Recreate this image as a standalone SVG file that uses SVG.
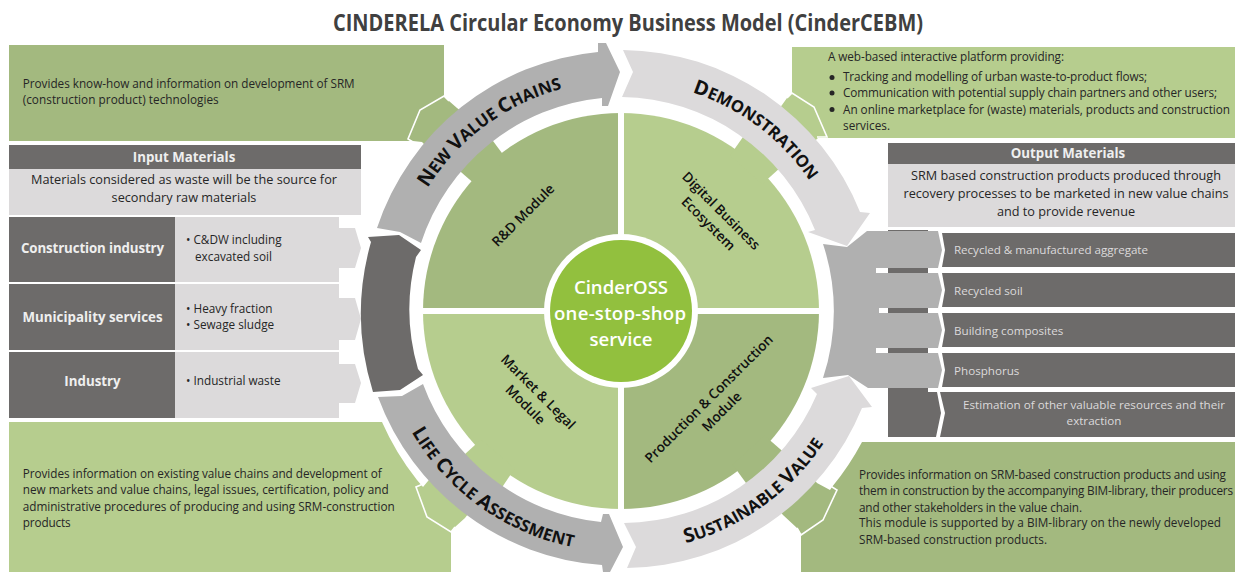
<svg xmlns="http://www.w3.org/2000/svg" width="1235" height="572" viewBox="0 0 1235 572">
<style>
text{font-family:"Open Sans","Noto Sans","Liberation Sans",sans-serif;fill:#262626}
.b{font-size:11.75px}
.m{font-size:12.7px}
.l{font-size:11.65px;fill:#dcdadb}
.h{font-size:13.3px;font-weight:700;fill:#efefef;text-anchor:middle}
.c{text-anchor:middle}
.q{font-size:13.6px;font-weight:600;fill:#111;text-anchor:middle}
.r{font-size:16.6px;font-weight:700;fill:#111;text-anchor:middle}
.r .u{font-size:20px}
.n{font-size:18.6px;font-weight:600;fill:#fff;text-anchor:middle}
.g1{fill:#a3b97f}.g2{fill:#b6cd8e}
.dk{fill:#6d6b6a}.lt{fill:#dcdadb}.gr{fill:#b0b0b0}
.w{fill:none;stroke:#fff;stroke-width:1.6}
</style>
<defs>
<path id="pa" d="M396.4 269.3A228 228 0 0 1 648.8 82.7"/>
<path id="pb" d="M597.2 82.3A228 228 0 0 1 845.6 269.3"/>
<path id="pc" d="M379 330.2A243 243 0 0 0 679.8 544.8"/>
<path id="pd" d="M562.2 544.8A243 243 0 0 0 863.5 326"/>
</defs>
<rect width="1235" height="572" fill="#fff"/>
<text id="title" x="628" y="31" class="c" textLength="590" lengthAdjust="spacingAndGlyphs" style="font-size:23px;font-weight:700;fill:#404040">CINDERELA Circular Economy Business Model (CinderCEBM)</text>

<g id="box-rd">
<path class="g1" d="M9 45H444V96L449 101L457 108L470 118L435 155L422 142L413 141H9Z"/>
<path class="w" d="M449 101L444 96L420 110L408 139L413 142"/>
<text class="b" x="22.7" y="88" textLength="332">Provides know-how and information on development of SRM</text>
<text class="b" x="22.7" y="104" textLength="196">(construction product) technologies</text>
</g>
<g id="box-digital">
<path class="g2" d="M792 47H1235V138H818L805 150L772 118L782 105L787 98L792 93Z"/>
<path class="w" d="M787 98L792 93L814 107L827 137L817 137"/>
<text class="b" x="828" y="61" textLength="236">A web-based interactive platform providing:</text>
<circle cx="832" cy="77.5" r="2.5" fill="#262626"/><circle cx="832" cy="93" r="2.5" fill="#262626"/><circle cx="832" cy="109.5" r="2.5" fill="#262626"/>
<text class="b" x="843" y="81" textLength="304">Tracking and modelling of urban waste-to-product flows;</text>
<text class="b" x="843" y="97" textLength="374">Communication with potential supply chain partners and other users;</text>
<text class="b" x="843" y="114" textLength="387">An online marketplace for (waste) materials, products and construction</text>
<text class="b" x="843" y="130" textLength="47">services.</text>
</g>
<g id="box-market">
<path class="g2" d="M9 422H382A265 265 0 0 0 417 480L423 487L433 475L475 505L465 518L455 527L451 532V572H9Z"/>
<path class="w" d="M423 484L416 487L427 517L451 532L455 527"/>
<text class="b" x="22.7" y="478" textLength="359">Provides information on existing value chains and development of</text>
<text class="b" x="22.7" y="494" textLength="366">new markets and value chains, legal issues, certification, policy and</text>
<text class="b" x="22.7" y="511" textLength="372">administrative procedures of producing and using SRM-construction</text>
<text class="b" x="22.7" y="527" textLength="48">products</text>
</g>
<g id="box-production">
<path class="g1" d="M862 442H1235V572H801V535L797 528L783 515L772 502L806 470L817 483L830 490L832 487A265 265 0 0 0 862 442Z"/>
<path class="w" d="M829 485L837 490L823 520L801 535L797 528"/>
<text class="b" x="859" y="479" textLength="367">Provides information on SRM-based construction products and using</text>
<text class="b" x="859" y="495" textLength="374">them in construction by the accompanying BIM-library, their producers</text>
<text class="b" x="859" y="512" textLength="223">and other stakeholders in the value chain.</text>
<text class="b" x="859" y="527" textLength="362">This module is supported by a BIM-library on the newly developed</text>
<text class="b" x="859" y="544" textLength="188">SRM-based construction products.</text>
</g>

<g id="input-materials">
<rect class="dk" x="9" y="145" width="352" height="24"/>
<rect class="lt" x="9" y="169" width="352" height="46"/>
<text class="h" x="184" y="162">Input Materials</text>
<text class="m c" x="184" y="184" textLength="306">Materials considered as waste will be the source for</text>
<text class="m c" x="184" y="202">secondary raw materials</text>
<path class="lt" d="M175 217H339V228H355L361 248L355 268H339V282H175Z"/>
<path class="lt" d="M175 284H339V298H355L361 319L355 340H339V350H175Z"/>
<path class="lt" d="M175 352H339V364H355L361 383L355 403H339V418H175Z"/>
<rect class="dk" x="9" y="217" width="166" height="65"/>
<rect class="dk" x="9" y="284" width="166" height="66"/>
<rect class="dk" x="9" y="352" width="166" height="66"/>
<text class="h" x="92.5" y="253" textLength="143">Construction industry</text>
<text class="h" x="92.5" y="322" textLength="140">Municipality services</text>
<text class="h" x="92.5" y="386">Industry</text>
<text class="b" x="186" y="244">• C&amp;DW including</text>
<text class="b" x="195" y="261">excavated soil</text>
<text class="b" x="186" y="313">• Heavy fraction</text>
<text class="b" x="186" y="329">• Sewage sludge</text>
<text class="b" x="186" y="385">• Industrial waste</text>
</g>

<g id="output-materials">
<rect class="dk" x="888" y="143" width="347" height="21"/>
<rect class="lt" x="888" y="164" width="347" height="63"/>
<text class="h" x="1068" y="158">Output Materials</text>
<text class="m c" x="1066" y="180">SRM based construction products produced through</text>
<text class="m c" x="1066" y="198" textLength="325">recovery processes to be marketed in new value chains</text>
<text class="m c" x="1066" y="216">and to provide revenue</text>
<path class="dk" d="M888 230H928V392H937L941 413L936 437H888Z"/>
<path class="dk" d="M942 233L945 250L942 267H1235V233Z"/>
<path class="dk" d="M942 273L945 290L942 307H1235V273Z"/>
<path class="dk" d="M942 313L945 330L942 347H1235V313Z"/>
<path class="dk" d="M942 353L945 370L942 387H1235V353Z"/>
<path class="dk" d="M940 392L945 413L940 437H1235V392Z"/>
<text class="l" x="954" y="254" textLength="194">Recycled &amp; manufactured aggregate</text>
<text class="l" x="954" y="295">Recycled soil</text>
<text class="l" x="954" y="335">Building composites</text>
<text class="l" x="954" y="375">Phosphorus</text>
<text class="l c" x="1094" y="409" textLength="262">Estimation of other valuable resources and their</text>
<text class="l c" x="1094" y="425">extraction</text>
</g>

<g id="quadrant-rd">
<path class="g1" d="M621 311V113A198 198 0 0 0 423 311Z"/>
<path class="g1" d="M506.6 159.2L487.4 133.6L453.4 165.4L477.6 186.4Z"/>
<text class="q" transform="translate(526.5 218.5) rotate(-45)">R&amp;D Module</text>
</g>
<g id="quadrant-digital">
<path class="g2" d="M621 311V113A198 198 0 0 1 819 311Z"/>
<path class="g2" d="M730 155.4L748.4 129.2L786 162.5L762.2 183.9Z"/>
<g transform="translate(715 217) rotate(45)"><text class="q" y="-4">Digital Business</text><text class="q" y="14">Ecosystem</text></g>
</g>
<g id="quadrant-market">
<path class="g2" d="M621 311V509A198 198 0 0 1 423 311Z"/>
<path class="g2" d="M514.8 468.5L496.9 495L457.4 461.1L481 439.4Z"/>
<g transform="translate(532 398) rotate(45)"><text class="q" y="-4">Market &amp; Legal</text><text class="q" y="14">Module</text></g>
</g>
<g id="quadrant-production">
<path class="g1" d="M621 311V509A198 198 0 0 0 819 311Z"/>
<path class="g1" d="M732.7 464.7L751.5 490.6L788.6 456.6L764.5 435.6Z"/>
<g transform="translate(715 405) rotate(-45)"><text class="q" y="-4">Production &amp; Construction</text><text class="q" y="14">Module</text></g>
</g>
<rect x="618" y="113" width="6" height="396" fill="#fff"/>
<rect x="423" y="308" width="396" height="6" fill="#fff"/>
<g id="cindeross">
<circle cx="621" cy="311" r="77" fill="#fff"/>
<circle cx="621" cy="311" r="71" fill="#92c03e"/>
<text class="n" x="621" y="294">CinderOSS</text>
<text class="n" x="620" y="320" textLength="132">one-stop-shop</text>
<text class="n" x="621" y="346">service</text>
</g>

<g id="connectors">
<path class="gr" d="M823 244L847 247L867 231H938L942 250L938 268H876V273H938L942 290L938 308H879V313H938L942 330L938 348H876V353H938L942 370L938 388H868L848 375L823 378A212 212 0 0 0 823 244Z"/>
<path class="gr" d="M377 228A258 258 0 0 1 598 52V43H606L620 72L608 106H602V98A212 212 0 0 0 421 243L400 232Z"/>
<path class="lt" d="M623 50A258 258 0 0 1 860 212L870 213L847 246L808 232L815 230A212 212 0 0 0 622 97L633 72Z"/>
<path class="lt" d="M627 568L636 547L624 523A212 212 0 0 0 817 394L811 388L849 376L872 407L862 408A258 258 0 0 1 627 568Z"/>
<path class="gr" d="M378 397A258 258 0 0 0 602 565L603 572H610L623 547L609 514H603L601 522A212 212 0 0 1 423 384L402 396Z"/>
<path class="dk" d="M368 237L399 235L421 250L416 257A212 212 0 0 0 418 369L423 375L400 390L373 392A262 262 0 0 1 371 242Z"/>
</g>
<g id="ring-labels">
<text class="r"><textPath href="#pa" startOffset="50%"><tspan class="u">N</tspan>EW <tspan class="u">V</tspan>ALUE <tspan class="u">C</tspan>HAINS</textPath></text>
<text class="r"><textPath href="#pb" startOffset="50%"><tspan class="u">D</tspan>EMONSTRATION</textPath></text>
<text class="r"><textPath href="#pc" startOffset="50%"><tspan class="u">L</tspan>IFE <tspan class="u">C</tspan>YCLE <tspan class="u">A</tspan>SSESSMENT</textPath></text>
<text class="r"><textPath href="#pd" startOffset="50%"><tspan class="u">S</tspan>USTAINABLE <tspan class="u">V</tspan>ALUE</textPath></text>
</g>
</svg>
